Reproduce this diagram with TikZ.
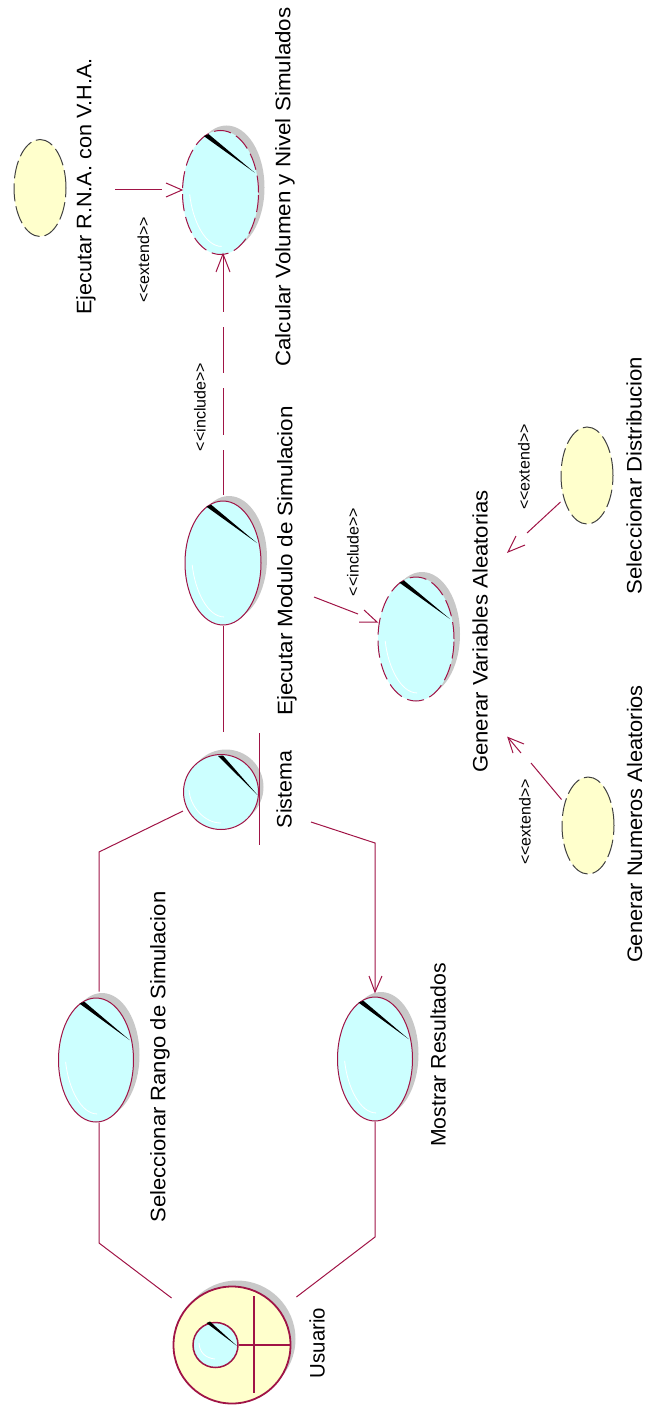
\documentclass[tikz,border=0pt]{standalone}
\usepackage{fontspec}
\setmainfont{Liberation Sans}
\usetikzlibrary{shapes.geometric}
\definecolor{crim}{RGB}{160,20,70}
\definecolor{ucblue}{RGB}{204,255,255}
\definecolor{ucyellow}{RGB}{255,255,204}
\definecolor{shadowgray}{RGB}{200,200,200}
\tikzset{
  x=1pt,y=-1pt,
  conn/.style={crim,line width=1pt},
  head/.style={crim,line width=1pt},
  lab/.style={rotate=90,font=\fontsize{21}{21}\selectfont,inner sep=0pt,anchor=center},
  ster/.style={rotate=90,font=\fontsize{16}{16}\selectfont,inner sep=0pt,anchor=center},
  plain/.style={draw=crim,line width=1pt,fill=ucblue,ellipse,inner sep=0pt},
  dashcase/.style={draw=crim,line width=1pt,fill=ucblue,ellipse,inner sep=0pt,dash pattern=on 17pt off 6pt},
  ghost/.style={draw=black!75,line width=1pt,fill=ucyellow,ellipse,inner sep=0pt,dash pattern=on 18pt off 5pt,minimum width=52pt,minimum height=97pt},
}
% \ucase{name}{cx}{cy}{rx}{ry}{style}
\newcommand{\ucase}[6]{%
  \fill[shadowgray] (#2+6,#3-5) ellipse [x radius=#4,y radius=#5];
  \node[#6,minimum width=2*#4 pt,minimum height=2*#5 pt] (#1) at (#2,#3) {};
  \fill[black] (#2-0.44*#4,#3-0.91*#5) -- (#2-0.31*#4,#3-0.94*#5) -- (#2+0.90*#4,#3-0.32*#5) -- cycle;
  \draw[white,line width=.8pt] (#2-0.81*#4,#3+0.03*#5) .. controls (#2-0.74*#4,#3+0.45*#5) and (#2-0.40*#4,#3+0.87*#5) .. (#2+0.03*#4,#3+0.87*#5);
}
\begin{document}
\begin{tikzpicture}
\useasboundingbox (0,0) rectangle (646,1407);
% ---- use cases
\ucase{calc}{220.5}{192.5}{38}{62}{dashcase}
\ucase{modulo}{223}{563}{38}{62}{plain}
\ucase{genvar}{416}{639}{38}{62}{dashcase}
\ucase{rango}{96}{1060}{37.5}{62}{plain}
\ucase{mostrar}{375}{1059}{37.5}{62}{plain}
% sistema (round case)
\fill[shadowgray] (226,787) circle [radius=37.5];
\node[plain,minimum width=75pt,minimum height=75pt] (sistema) at (221,792) {};
\fill[black] (218,756) -- (223,755.5) -- (257.5,795) -- cycle;
\draw[white,line width=.8pt] (189,790) .. controls (190,806) and (204,823) .. (221,823);
\node[ghost] (rna) at (40,188) {};
\node[ghost] (dist) at (587,475.5) {};
\node[ghost] (numeros) at (588,825.5) {};
% ---- boundary bar
\coordinate (barA) at (259.5,733);
\coordinate (barB) at (259.5,845);
\draw[conn] (barA) -- (barB);
% ---- actor
\fill[shadowgray] (237,1339) circle [radius=58.5];
\node[circle,draw=crim,line width=1.8pt,fill=ucyellow,minimum size=117pt,inner sep=0pt] (usuario) at (232,1345) {};
\node[circle,draw=crim,line width=1.5pt,fill=ucblue,minimum size=45pt,inner sep=0pt] (actorhead) at (215.5,1345) {};
\fill[black] (206.5,1323) -- (210,1321.5) -- (237,1346) -- cycle;
\draw[white,line width=.8pt] (199,1343) .. controls (199.5,1352) and (205,1358) .. (215,1359);
\draw[crim,line width=1.5pt] (actorhead.east) -- (usuario.east);
\coordinate (armA) at (254,1296);
\coordinate (armB) at (254,1393);
\draw[crim,line width=1.5pt] (armA) -- (armB);
% ---- labels
\node[lab,xscale=1.03] (lrna) at (86,186.5) {Ejecutar R.N.A. con V.H.A.};
\node[lab,xscale=1.065] (lcalc) at (285,187) {Calcular Volumen y Nivel Simulados};
\node[lab,xscale=1.07] (lmod) at (287,561) {Ejecutar Modulo de Simulacion};
\node[lab,xscale=1.02] (lsis) at (284,789.5) {Sistema};
\node[lab,xscale=1.055] (lvar) at (480,631.5) {Generar Variables Aleatorias};
\node[lab,xscale=1.055] (ldist) at (634,475.5) {Seleccionar Distribucion};
\node[lab,xscale=1.04] (lnum) at (634.5,824) {Generar Numeros Aleatorios};
\node[lab,xscale=1.05] (lrango) at (160,1057) {Seleccionar Rango de Simulacion};
\node[lab,xscale=1.01] (lmos) at (438,1055) {Mostrar Resultados};
\node[lab,xscale=.97] (lusu) at (317,1343) {Usuario};
\node[ster] (e1) at (143.5,260) {<{}<extend>{}>};
\node[ster] (i1) at (200,407) {<{}<include>{}>};
\node[ster] (i2) at (353,552) {<{}<include>{}>};
\node[ster] (e2) at (524,467) {<{}<extend>{}>};
\node[ster] (e3) at (525,822) {<{}<extend>{}>};
% ---- connectors
\coordinate (b1) at (99,1243);
\coordinate (b2) at (99,852);
\coordinate (b3) at (375,1237);
\coordinate (b4) at (375,843);
\coordinate (s1) at (311,822);
\draw[conn] ([shift={(-1pt,47pt)}]usuario.west) -- (b1) -- (rango.south -| b1);
\draw[conn] ([yshift=6pt]rango.north -| b2) -- (b2) -- ([yshift=-19pt]sistema.west);
\draw[conn] ([shift={(5pt,48pt)}]usuario.east) -- (b3) -- (mostrar.south);
\coordinate (t1) at (375,992);
\coordinate (t1a) at (369,976);
\coordinate (t1b) at (382,976);
\draw[conn] (s1) -- (b4) -- (t1);
\draw[head] (t1a) -- (t1) -- (t1b);
\draw[conn] ([yshift=22pt]sistema.north -| modulo) -- (modulo.south);
% extend rna -> calc
\coordinate (c1) at (115,190);
\coordinate (c2) at (162,190);
\coordinate (c3) at (166,183);
\coordinate (c4) at (166,197);
\draw[conn] (c1) -- (c2);
\draw[head] (c3) -- (calc.west |- c1) -- (c4);
% include modulo -> calc
\coordinate (d1) at (223,254);
\coordinate (d2) at (216,272);
\coordinate (d3) at (230,272);
\coordinate (d4) at (223,256);
\coordinate (d5) at (223,312);
\coordinate (d6) at (223,327);
\coordinate (d7) at (223,373);
\coordinate (d8) at (223,388);
\coordinate (d9) at (223,435);
\coordinate (d10) at (223,450);
\draw[conn] (d4) -- (d5);
\draw[conn] (d6) -- (d7);
\draw[conn] (d8) -- (d9);
\draw[conn] (d10) -- ([yshift=6pt]modulo.north);
\draw[head] (d2) -- (d1) -- (d3);
% include modulo -> genvar
\coordinate (f1) at (314,597);
\coordinate (f2) at (358,614);
\coordinate (f3) at (359,622);
\coordinate (f4) at (364,610);
\coordinate (f5) at (377,622);
\draw[conn] (f1) -- (f2);
\draw[head] (f3) -- (f5) -- (f4);
% extend dist -> genvar
\coordinate (g2) at (527,533);
\coordinate (g3) at (516,536);
\coordinate (g4) at (525,545);
\coordinate (g5) at (508,552);
\draw[conn] ([yshift=-26.5pt]dist.west) -- (g2);
\draw[head] (g3) -- (g5) -- (g4);
% extend numeros -> genvar
\coordinate (h2) at (531,763);
\coordinate (h3) at (524,744);
\coordinate (h4) at (513,753);
\coordinate (h5) at (508,737.5);
\coordinate (h6) at (521,753);
\draw[conn] ([yshift=26pt]numeros.west) -- (h2);
\draw[head] (h3) -- (h5) -- (h4);
\draw[head] (h5) -- (h6);
\end{tikzpicture}
\end{document}
